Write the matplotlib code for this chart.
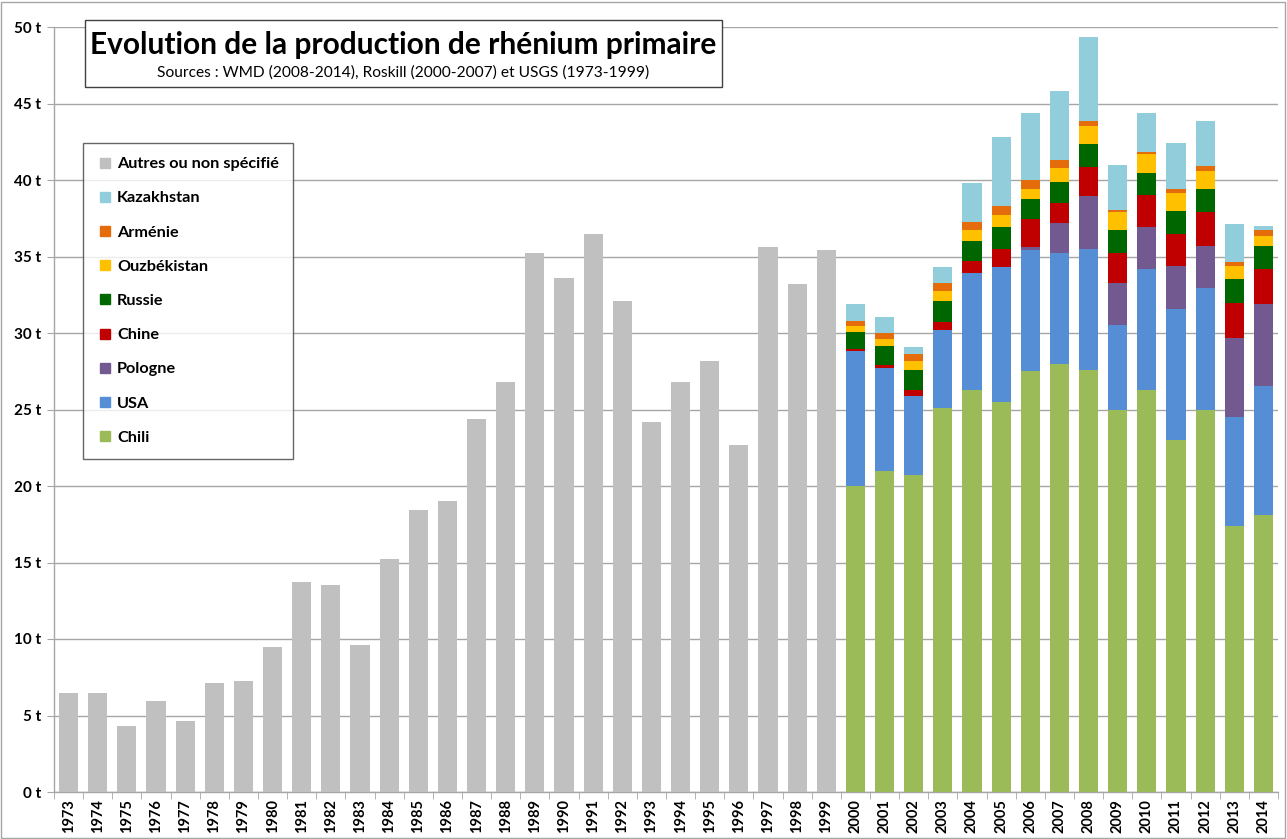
import matplotlib
matplotlib.use("Agg")
import matplotlib.pyplot as plt
from matplotlib.patches import Rectangle
from matplotlib.lines import Line2D
import numpy as np

years = [str(y) for y in range(1973, 2015)]

autres = [6.5, 6.45, 4.3, 5.95, 4.65, 7.1, 7.25, 9.5, 13.7, 13.5, 9.6, 15.2, 18.4, 19.0,
          24.4, 26.8, 35.2, 33.6, 36.5, 32.1, 24.2, 26.8, 28.2, 22.7, 35.6, 33.2, 35.4] + [0] * 15
pre = [0] * 27
chili = pre + [20.0, 21.0, 20.75, 25.1, 26.3, 25.5, 27.5, 28.0, 27.6, 25.0, 26.3, 23.0, 25.0, 17.4, 18.1]
usa = pre + [8.8, 6.7, 5.1, 5.1, 7.6, 8.8, 7.9, 7.2, 7.9, 5.55, 7.9, 8.6, 7.95, 7.1, 8.45]
pologne = pre + [0, 0, 0, 0, 0, 0, 0.22, 2.0, 3.45, 2.75, 2.75, 2.75, 2.73, 5.2, 5.35]
chine = pre + [0.15, 0.22, 0.4, 0.5, 0.78, 1.2, 1.8, 1.3, 1.9, 1.9, 2.05, 2.1, 2.2, 2.25, 2.3]
russie = pre + [1.1, 1.22, 1.35, 1.4, 1.35, 1.4, 1.37, 1.35, 1.5, 1.5, 1.48, 1.5, 1.53, 1.55, 1.5]
ouzbek = pre + [0.4, 0.48, 0.6, 0.65, 0.7, 0.8, 0.6, 0.95, 1.2, 1.2, 1.22, 1.17, 1.17, 0.9, 0.63]
armenie = pre + [0.35, 0.35, 0.45, 0.55, 0.52, 0.6, 0.6, 0.5, 0.3, 0.13, 0.15, 0.27, 0.33, 0.25, 0.37]
kazakh = pre + [1.1, 1.1, 0.45, 1.0, 2.55, 4.5, 4.4, 4.5, 5.5, 2.95, 2.53, 3.03, 2.97, 2.5, 0.3]

series = [
    ("Chili", chili, "#9BBB59"),
    ("USA", usa, "#558ED5"),
    ("Pologne", pologne, "#725990"),
    ("Chine", chine, "#C00000"),
    ("Russie", russie, "#006600"),
    ("Ouzbékistan", ouzbek, "#FFC000"),
    ("Arménie", armenie, "#E46C0A"),
    ("Kazakhstan", kazakh, "#92CDDC"),
    ("Autres ou non spécifié", autres, "#C0C0C0"),
]

plt.rcParams["font.family"] = ["Lato", "DejaVu Sans"]

W, H = 1287, 839
fig = plt.figure(figsize=(W / 100, H / 100), dpi=100)
ax = fig.add_axes([54 / W, 1 - 792 / H, (1278 - 54) / W, (792 - 27) / H])

x = np.arange(len(years))
bottom = np.zeros(len(years))
for name, vals, col in series:
    v = np.array(vals, dtype=float)
    ax.bar(x, v, width=0.66, bottom=bottom, color=col, edgecolor="none", zorder=3)
    bottom += v

ax.set_xlim(-0.5, len(years) - 0.5)
ax.set_ylim(0, 50)
ax.set_yticks(range(0, 51, 5))
ax.set_yticklabels([f"{v} t" for v in range(0, 51, 5)], fontsize=11, fontweight="bold")
ax.yaxis.grid(True, color="#A6A6A6", linewidth=1.0, zorder=0)
ax.set_xticks(x)
ax.set_xticklabels(years, rotation=90, fontsize=10.5, fontweight="bold")
ax.set_xticks(np.arange(-0.5, len(years), 1), minor=True)
ax.tick_params(axis="x", which="major", length=0, pad=5)
ax.tick_params(axis="x", which="minor", length=5, color="#A6A6A6", direction="out")
ax.tick_params(axis="y", length=5, color="#A6A6A6", direction="out", pad=4)
for s in ["top", "right"]:
    ax.spines[s].set_visible(False)
for s in ["left", "bottom"]:
    ax.spines[s].set_color("#A6A6A6")
    ax.spines[s].set_linewidth(1.0)

# Title box
fig.patches.append(Rectangle((85 / W, 1 - 87 / H), (722 - 85) / W, (87 - 20) / H,
                             transform=fig.transFigure, facecolor="white", edgecolor="#404040",
                             linewidth=1.0, zorder=5))
fig.text(403 / W, 1 - 45 / H, "Evolution de la production de rhénium primaire",
         ha="center", va="center", fontsize=21.5, fontweight="bold", zorder=6)
fig.text(403 / W, 1 - 73 / H, "Sources : WMD (2008-2014), Roskill (2000-2007) et USGS (1973-1999)",
         ha="center", va="center", fontsize=11.2, zorder=6)

# Legend
handles = [Line2D([0], [0], marker="s", linestyle="none", markersize=7,
                  markerfacecolor=col, markeredgecolor=col) for _, _, col in series[::-1]]
labels = [name for name, _, _ in series[::-1]]
leg = fig.legend(handles, labels, loc="upper left", bbox_to_anchor=(83 / W, 1 - 143 / H),
                 borderaxespad=0, frameon=True, fancybox=False, edgecolor="#404040",
                 prop={"size": 11.7, "weight": "bold"}, labelspacing=1.22,
                 handlelength=1.0, handletextpad=0.25, borderpad=0.85)
leg.get_frame().set_linewidth(1.0)

# Outer border
fig.patches.append(Rectangle((1 / W, 1 / H), (W - 3) / W, (H - 3) / H, transform=fig.transFigure,
                             facecolor="none", edgecolor="#A6A6A6", linewidth=1.0))

fig.savefig("out.png", dpi=100)
